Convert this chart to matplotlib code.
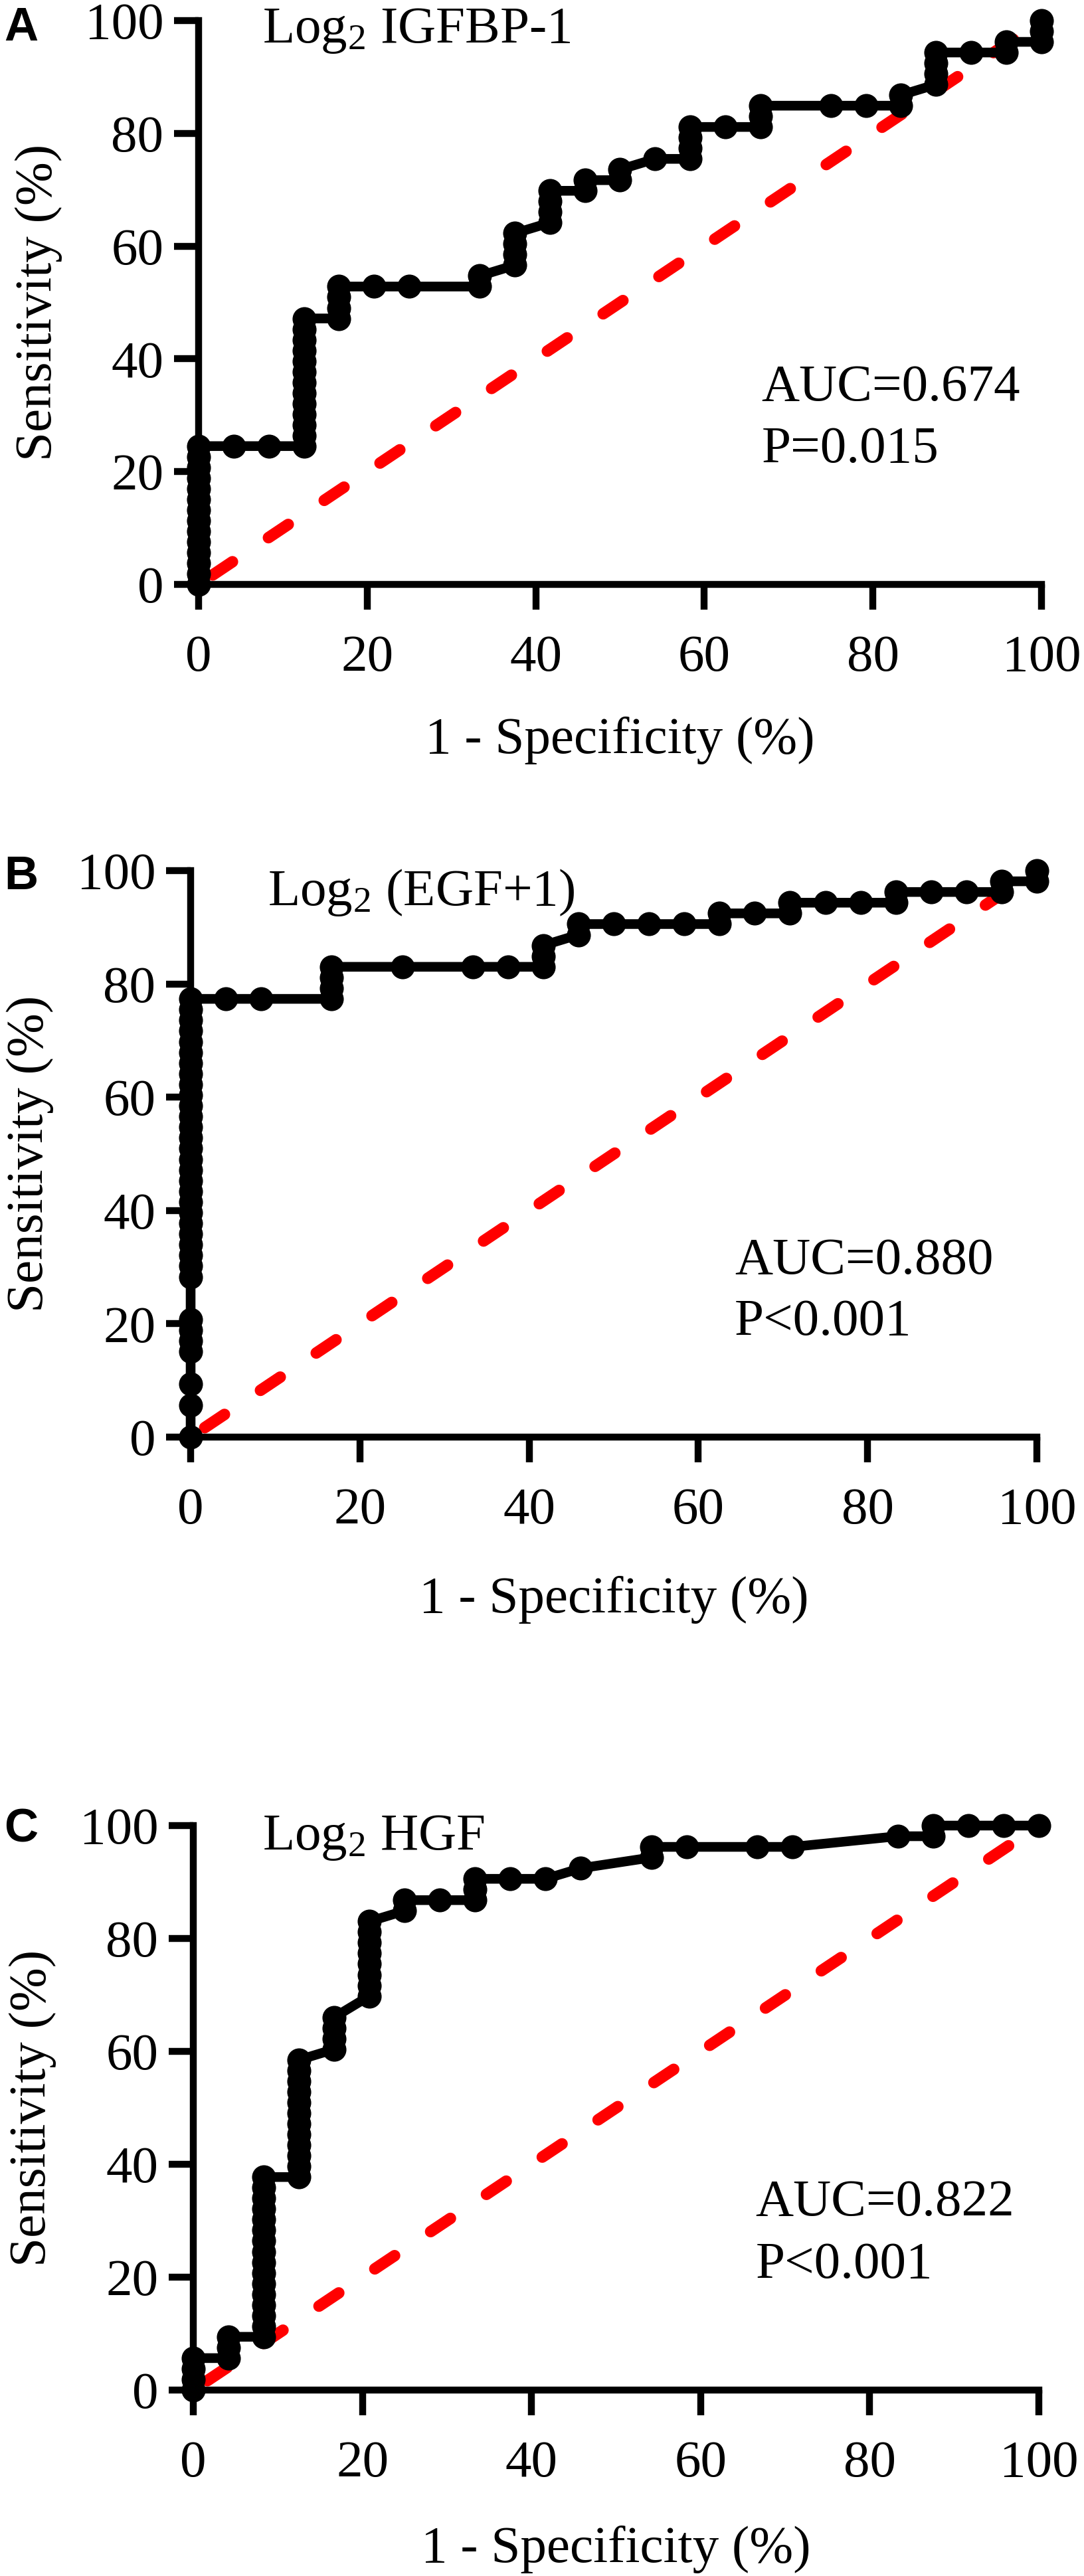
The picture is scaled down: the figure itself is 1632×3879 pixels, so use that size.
"""
ROC curves for three serum markers (IGFBP-1, EGF, HGF), Prism-style.
"""

import matplotlib

matplotlib.use("Agg")
import matplotlib.pyplot as plt

# group sizes behind the ROC steps (x moves in 1/24, y in 1/53)
N_NEG = 24
N_POS = 53

# (false-positive count, true-positive counts plotted at that x)
IGFBP1_STEPS = [
    (0, [0, 1, 2, 3, 4, 5, 6, 7, 8, 9, 10, 11, 12, 13]),
    (1, [13]),
    (2, [13]),
    (3, [13, 14, 15, 16, 17, 18, 19, 20, 21, 22, 23, 24, 25]),
    (4, [25, 26, 27, 28]),
    (5, [28]),
    (6, [28]),
    (8, [28, 29]),
    (9, [30, 31, 32, 33]),
    (10, [34, 35, 36, 37]),
    (11, [37, 38]),
    (12, [38, 39]),
    (13, [40]),
    (14, [40, 41, 42, 43]),
    (15, [43]),
    (16, [43, 44, 45]),
    (18, [45]),
    (19, [45]),
    (20, [45, 46]),
    (21, [47, 48, 49, 50]),
    (22, [50]),
    (23, [50, 51]),
    (24, [51, 52, 53]),
]

EGF_STEPS = [
    (0, [0, 3, 5, 8, 9, 10, 11, 15, 16, 17, 18, 19, 20, 21, 22, 23, 24, 25, 26,
         27, 28, 29, 30, 31, 32, 33, 34, 35, 36, 37, 38, 39, 40, 41]),
    (1, [41]),
    (2, [41]),
    (4, [41, 42, 43, 44]),
    (6, [44]),
    (8, [44]),
    (9, [44]),
    (10, [44, 45, 46]),
    (11, [47, 48]),
    (12, [48]),
    (13, [48]),
    (14, [48]),
    (15, [48, 49]),
    (16, [49]),
    (17, [49, 50]),
    (18, [50]),
    (19, [50]),
    (20, [50, 51]),
    (21, [51]),
    (22, [51]),
    (23, [51, 52]),
    (24, [52, 53]),
]

HGF_STEPS = [
    (0, [0, 1, 2, 3]),
    (1, [3, 4, 5]),
    (2, [5, 6, 7, 8, 9, 10, 11, 12, 13, 14, 15, 16, 17, 18, 19, 20]),
    (3, [20, 21, 22, 23, 24, 25, 26, 27, 28, 29, 30, 31]),
    (4, [32, 33, 34, 35]),
    (5, [37, 38, 39, 40, 41, 42, 43, 44]),
    (6, [45, 46]),
    (7, [46]),
    (8, [46, 47, 48]),
    (9, [48]),
    (10, [48]),
    (11, [49]),
    (13, [50, 51]),
    (14, [51]),
    (16, [51]),
    (17, [51]),
    (20, [52]),
    (21, [52, 53]),
    (22, [53]),
    (23, [53]),
    (24, [53]),
]

PANEL_LETTERS = ["A", "B", "C"]
MARKER_NAMES = [
    "Log$_{\\mathrm{2}}$ IGFBP-1",
    "Log$_{\\mathrm{2}}$ (EGF+1)",
    "Log$_{\\mathrm{2}}$ HGF",
]
AUC_LABELS = ["AUC=0.674", "AUC=0.880", "AUC=0.822"]
P_LABELS = ["P=0.015", "P<0.001", "P<0.001"]
TICKS = [0, 20, 40, 60, 80, 100]

plt.rcParams["font.family"] = "Liberation Serif"
plt.rcParams["mathtext.fontset"] = "custom"
plt.rcParams["mathtext.rm"] = "Liberation Serif"
plt.rcParams["mathtext.it"] = "Liberation Serif:italic"
plt.rcParams["mathtext.bf"] = "Liberation Serif:bold"

W, H = 1633, 3879
FS = 57

# axes boxes in pixels: left, top, right, bottom
AX_BOXES = [
    (299, 31, 1568, 880),
    (287, 1311, 1561, 2164),
    (291, 2749, 1564, 3599),
]
LETTER_TOPS = [10, 1288, 2722]
TITLE_POS = [(7.6, 96.1), (9.1, 93.9), (8.2, 95.8)]
AUC_POS = [(66.8, 32.6, 21.7), (64.3, 28.9, 18.1), (66.5, 30.9, 19.9)]
XLABEL_Y = [-0.234, -0.245, -0.240]


def flatten(steps):
    xs, ys = [], []
    for fp, tps in steps:
        for tp in tps:
            xs.append(100 * fp / N_NEG)
            ys.append(100 * tp / N_POS)
    return xs, ys


def main():
    fig = plt.figure(figsize=(W / 100, H / 100), dpi=100)
    all_steps = [IGFBP1_STEPS, EGF_STEPS, HGF_STEPS]

    for i, steps in enumerate(all_steps):
        l, t, r, b = AX_BOXES[i]
        ax = fig.add_axes([l / W, 1 - b / H, (r - l) / W, (b - t) / H])

        ax.plot([0, 100], [0, 100], color="#FF0000", lw=12.5,
                ls=(4.35, (2.06, 3.76)), dash_capstyle="round",
                clip_on=False, zorder=2)
        xs, ys = flatten(steps)
        ax.plot(xs, ys, color="black", lw=10.5, marker="o", ms=26, mew=0,
                solid_joinstyle="round", clip_on=False, zorder=3)

        ax.set_xlim(0, 100)
        ax.set_ylim(0, 100)
        ax.set_xticks(TICKS)
        ax.set_yticks(TICKS)
        for side in ("top", "right"):
            ax.spines[side].set_visible(False)
        for side in ("left", "bottom"):
            ax.spines[side].set_linewidth(7.5)
        ax.tick_params(direction="out", length=27, width=7.5, labelsize=FS)
        ax.tick_params(axis="x", pad=27)
        ax.tick_params(axis="y", pad=11)

        ax.set_xlabel("1 - Specificity (%)", fontsize=FS)
        ax.xaxis.set_label_coords(0.5, XLABEL_Y[i])
        ax.set_ylabel("Sensitivity (%)", fontsize=FS, va="center")
        ax.yaxis.set_label_coords(-0.19, 0.5)

        tx, ty = TITLE_POS[i]
        ax.text(tx, ty, MARKER_NAMES[i], fontsize=FS, va="baseline", ha="left")
        ax_, auc_y, p_y = AUC_POS[i]
        ax.text(ax_, auc_y, AUC_LABELS[i], fontsize=FS, va="baseline", ha="left")
        ax.text(ax_, p_y, P_LABELS[i], fontsize=FS, va="baseline", ha="left")

        fig.text(6 / W, 1 - LETTER_TOPS[i] / H, PANEL_LETTERS[i],
                 family="Liberation Sans", fontweight="bold", fontsize=51,
                 ha="left", va="top")

    fig.savefig("out.png", dpi=100)


if __name__ == "__main__":
    main()
